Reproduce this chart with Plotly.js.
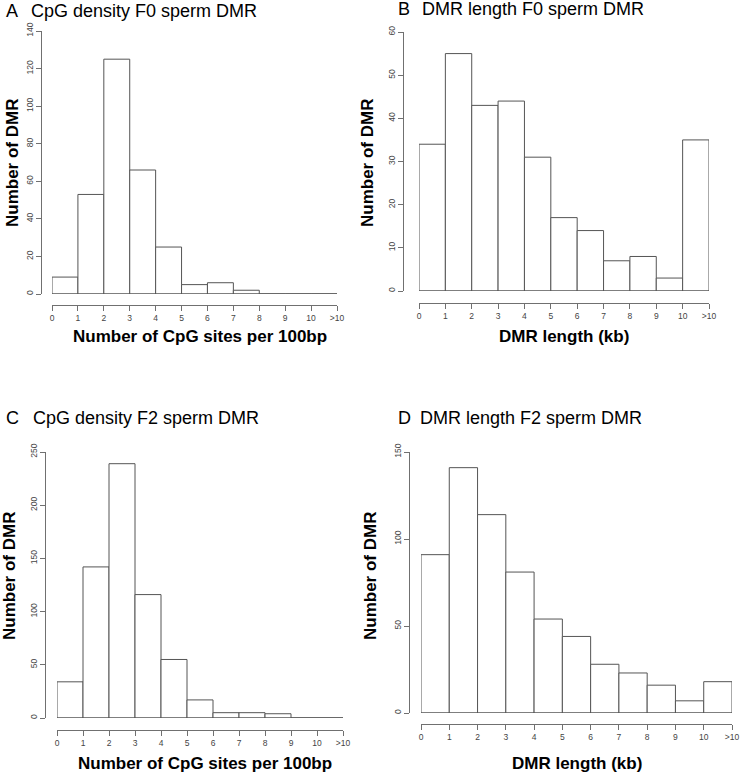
<!DOCTYPE html>
<html>
<head>
<meta charset="utf-8">
<script src="https://cdn.plot.ly/plotly-3.0.1.min.js"></script>
<style>html,body{margin:0;padding:0;background:#fff;}#chart{width:742px;height:773px;}</style>
</head>
<body>
<div id="chart"></div>
<script>
// ---- data ----
const binCenters = [0.5, 1.5, 2.5, 3.5, 4.5, 5.5, 6.5, 7.5, 8.5, 9.5, 10.5];
const tickVals = [0, 1, 2, 3, 4, 5, 6, 7, 8, 9, 10, 11];
const tickLabels = ["0", "1", "2", "3", "4", "5", "6", "7", "8", "9", "10", ">10"];
const cpgF0 = [9, 53, 125, 66, 25, 5, 6, 2, 0, 0, 0];
const lenF0 = [34, 55, 43, 44, 31, 17, 14, 7, 8, 3, 35];
const cpgF2 = [34, 142, 239, 116, 55, 17, 5, 5, 4, 0, 0];
const lenF2 = [91, 141, 114, 81, 54, 44, 28, 23, 16, 7, 18];
const panelLetters = ["A", "B", "C", "D"];
const panelTitles = ["CpG density F0 sperm DMR", "DMR length F0 sperm DMR", "CpG density F2 sperm DMR", "DMR length F2 sperm DMR"];
const xTitles = ["Number of CpG sites per 100bp", "DMR length (kb)", "Number of CpG sites per 100bp", "DMR length (kb)"];
const yTitle = "Number of DMR";
const yMax = [140, 60, 250, 150];
const yStep = [20, 10, 50, 50];

// ---- layout geometry (pixels) ----
const W = 742, H = 773;
const geo = [
  {x0: 52, x1: 337, yb: 294, yt: 31, xaxY: 305, yaxX: 41, titleY: 11, letterX: 4, textX: 29, ytX: 12, ytY: 163, xtY: 336},
  {x0: 419, x1: 709, yb: 291, yt: 32, xaxY: 303, yaxX: 403, titleY: 9, letterX: 396, textX: 420, ytX: 367, ytY: 163, xtY: 336},
  {x0: 57, x1: 343, yb: 718, yt: 452, xaxY: 730, yaxX: 45, titleY: 418, letterX: 4, textX: 31, ytX: 9, ytY: 576, xtY: 763},
  {x0: 421, x1: 732, yb: 713, yt: 452, xaxY: 724, yaxX: 409, titleY: 418, letterX: 396, textX: 418, ytX: 370, ytY: 576, xtY: 763}
];
const px = v => v / W;
const py = v => 1 - v / H;

const series = [cpgF0, lenF0, cpgF2, lenF2];
const traces = [];
const layout = {
  width: W, height: H,
  margin: {l: 0, r: 0, t: 0, b: 0},
  paper_bgcolor: "#fff", plot_bgcolor: "rgba(0,0,0,0)",
  showlegend: false,
  font: {family: "Liberation Sans, Arial, sans-serif", color: "#000"},
  annotations: [], shapes: []
};
const axisColor = "#707070";
const tickFont = {family: "Liberation Sans, Arial, sans-serif", size: 8.5, color: "#444"};

series.forEach((vals, i) => {
  const g = geo[i];
  const n = i === 0 ? "" : String(i + 1);
  const xa = "x" + n, ya = "y" + n;
  traces.push({
    type: "bar", x: binCenters, y: vals, width: 1,
    xaxis: xa, yaxis: ya,
    marker: {color: "#fff", line: {color: "#555", width: 1}},
    hoverinfo: "x+y"
  });
  const yt = [];
  for (let v = 0; v <= yMax[i]; v += yStep[i]) yt.push(v);
  layout["xaxis" + n] = {
    domain: [px(g.x0), px(g.x1)], range: [0, 11], anchor: "free", position: py(g.xaxY),
    tickmode: "array", tickvals: tickVals, ticktext: tickLabels,
    showline: true, linecolor: axisColor, linewidth: 1,
    ticks: "outside", ticklen: 5, tickcolor: axisColor, tickwidth: 1,
    showgrid: false, zeroline: false, tickfont: tickFont, fixedrange: true
  };
  layout["yaxis" + n] = {
    domain: [py(g.yb), py(g.yt)], range: [0, yMax[i]], anchor: "free", position: px(g.yaxX),
    tickmode: "array", tickvals: yt, tickangle: -90,
    showline: true, linecolor: axisColor, linewidth: 1,
    ticks: "outside", ticklen: 5, tickcolor: axisColor, tickwidth: 1,
    showgrid: false, zeroline: false, tickfont: tickFont, fixedrange: true
  };
  // baseline for empty bins
  layout.shapes.push({type: "line", xref: xa, yref: ya, x0: 0, x1: 11, y0: 0, y1: 0,
    line: {color: "#555", width: 1}, layer: "above"});
  // panel letter and title
  layout.annotations.push({xref: "paper", yref: "paper", x: px(g.letterX), y: py(g.titleY),
    xanchor: "left", yanchor: "middle", text: panelLetters[i], showarrow: false,
    font: {size: 18, color: "#000"}});
  layout.annotations.push({xref: "paper", yref: "paper", x: px(g.textX), y: py(g.titleY),
    xanchor: "left", yanchor: "middle", text: panelTitles[i], showarrow: false,
    font: {size: 18, color: "#000"}});
  // axis titles
  layout.annotations.push({xref: "paper", yref: "paper", x: px((g.x0 + g.x1) / 2 + (i % 2 === 1 ? 0 : 5)), y: py(g.xtY),
    xanchor: "center", yanchor: "middle", text: "<b>" + xTitles[i] + "</b>", showarrow: false,
    font: {size: 17, color: "#000"}});
  layout.annotations.push({xref: "paper", yref: "paper", x: px(g.ytX), y: py(g.ytY),
    xanchor: "center", yanchor: "middle", textangle: -90, text: "<b>" + yTitle + "</b>", showarrow: false,
    font: {size: 17, color: "#000"}});
});

Plotly.newPlot("chart", traces, layout, {displayModeBar: false, staticPlot: true});
</script>
</body>
</html>
